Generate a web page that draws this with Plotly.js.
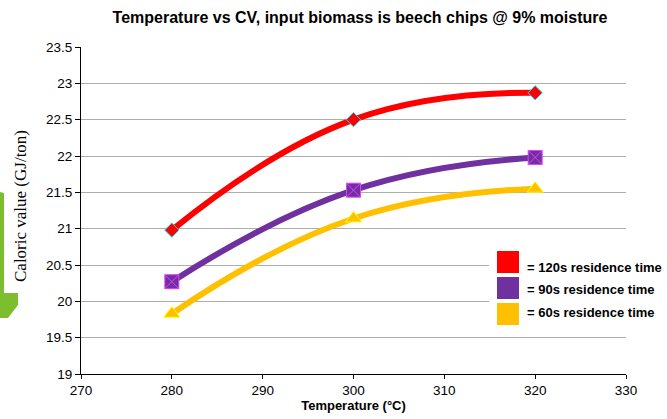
<!DOCTYPE html>
<html>
<head>
<meta charset="utf-8">
<script src="https://cdn.plot.ly/plotly-3.0.1.min.js"></script>
<style>html,body{margin:0;padding:0;background:#fff;}#chart{width:667px;height:419px;}</style>
</head>
<body>
<div id="chart"></div>
<script>
var temperatures = [280, 300, 320];
var cv120 = [20.98, 22.50, 22.87];
var cv90 = [20.27, 21.53, 21.98];
var cv60 = [19.83, 21.14, 21.55];
var seriesNames = ["= 120s residence time", "= 90s residence time", "= 60s residence time"];
var seriesColors = ["#FF0000", "#7030A0", "#FFC000"];
var titleText = "Temperature vs CV, input biomass is beech chips @ 9% moisture";
var xTitle = "Temperature (°C)";
var yTitle = "Caloric value (GJ/ton)";

var W = 667, H = 419, L = 81, R = 41, T = 47, B = 45;
var pw = W - L - R, ph = H - T - B;
function px(x) { return (x - L) / pw; }
function py(y) { return (H - B - y) / ph; }

var markerDefs = [
  {symbol: "diamond", size: 11, line: {color: "#00E5FF", width: 1}},
  {symbol: "square-x", size: 14, line: {color: "#E040FB", width: 1}},
  {symbol: "triangle-up", size: 14, line: {color: "#FFFF00", width: 1}}
];
var seriesValues = [cv120, cv90, cv60];

var traces = seriesValues.map(function (vals, i) {
  return {
    x: temperatures, y: vals, type: "scatter", mode: "lines+markers",
    name: seriesNames[i], showlegend: false,
    line: {color: seriesColors[i], width: 6, shape: "spline", smoothing: 1.3},
    marker: {symbol: markerDefs[i].symbol, size: markerDefs[i].size, color: seriesColors[i], line: markerDefs[i].line}
  };
});

var shapes = [];
// green decoration at left edge
var gp = [[0,192],[4,193],[4,293],[18,293],[18,305],[8,318],[0,318]];
var path = gp.map(function (p, k) { return (k ? "L" : "M") + px(p[0]) + "," + py(p[1]); }).join(" ") + " Z";
shapes.push({type: "path", xref: "paper", yref: "paper", path: path, fillcolor: "#7DBE2E", line: {width: 0}, layer: "below"});
// legend white box
shapes.push({type: "rect", xref: "paper", yref: "paper", x0: px(489), x1: px(667), y0: py(242), y1: py(332), fillcolor: "#FFFFFF", line: {width: 0}, layer: "above"});
var sqTops = [251, 277, 303];
var textY = [267, 289, 312];
var annotations = [];
for (var i = 0; i < 3; i++) {
  shapes.push({type: "rect", xref: "paper", yref: "paper", x0: px(497), x1: px(519), y0: py(sqTops[i] + 22), y1: py(sqTops[i]), fillcolor: seriesColors[i], line: {width: 0}, layer: "above"});
  annotations.push({xref: "paper", yref: "paper", x: px(525), y: py(textY[i]), xanchor: "left", yanchor: "middle", showarrow: false, text: "<b>" + seriesNames[i] + "</b>", font: {family: "Liberation Sans, Arial", size: 13, color: "#000"}});
}
annotations.push({xref: "paper", yref: "paper", x: px(20), y: py(206), xanchor: "center", yanchor: "middle", showarrow: false, textangle: -90, text: yTitle, font: {family: "Liberation Serif, Times New Roman", size: 17, color: "#000"}});

var layout = {
  width: W, height: H,
  margin: {l: L, r: R, t: T, b: B, pad: 0},
  paper_bgcolor: "#fff", plot_bgcolor: "#fff",
  title: {text: "<b>" + titleText + "</b>", x: 360 / W, xref: "container", xanchor: "center", y: 1 - 17 / H, yref: "container", yanchor: "middle", font: {family: "Liberation Sans, Arial", size: 16, color: "#000"}},
  xaxis: {range: [270, 330], dtick: 10, tick0: 270, showgrid: false, zeroline: false, showline: true, linecolor: "#000", linewidth: 1, ticks: "outside", ticklen: 4, tickcolor: "#000", tickfont: {family: "Liberation Sans, Arial", size: 13.5, color: "#000"},
    title: {text: "<b>" + xTitle + "</b>", standoff: 2, font: {family: "Liberation Sans, Arial", size: 13, color: "#000"}}},
  yaxis: {range: [19, 23.5], dtick: 0.5, tick0: 19, showgrid: true, gridcolor: "#ADADAD", gridwidth: 1, zeroline: false, showline: true, linecolor: "#000", linewidth: 1, ticks: "outside", ticklen: 5, tickcolor: "#000", tickfont: {family: "Liberation Sans, Arial", size: 13.5, color: "#000"}},
  shapes: shapes,
  annotations: annotations,
  showlegend: false
};
Plotly.newPlot("chart", traces, layout, {staticPlot: true, displayModeBar: false});
</script>
</body>
</html>
